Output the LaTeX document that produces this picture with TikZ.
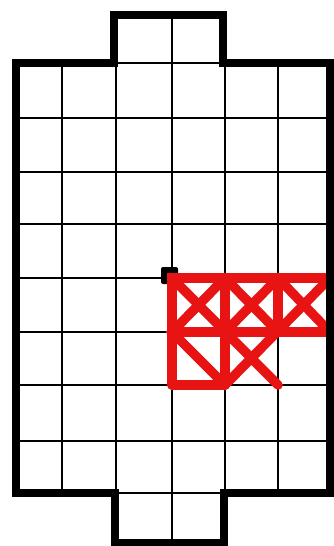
\documentclass[tikz,border=0pt]{standalone}
\usetikzlibrary{calc}
\definecolor{markred}{RGB}{232,20,20}
\tikzset{
  thin grid/.style={line width=1.8pt, black},
  outline/.style={line width=8.5pt, black, line join=miter},
  redline/.style={line width=9.5pt, markred, line cap=round},
  dotmark/.style={fill=black, rounded corners=2pt}
}
\begin{document}
\begin{tikzpicture}[x=1pt,y=-1pt]
\useasboundingbox (0,0) rectangle (334,546);
\fill[white] (0,0) rectangle (334,546);
% thin grid: vertical lines
\foreach \x in {62,116,225,278} \draw[thin grid] (\x,63) -- (\x,493);
\draw[thin grid] (172,15) -- (172,543);
% horizontal lines
\foreach \y in {118,172,224,278,332,385,441} \draw[thin grid] (16,\y) -- (330,\y);
\draw[thin grid] (114,63) -- (223,63);
\draw[thin grid] (115,493) -- (224,493);
% black dot
\fill[dotmark] (161,267) rectangle (178,284);
% red marking
\draw[redline] (172,385) -- (172,278) -- (326,278);
\draw[redline] (172,385) -- (225,385);
\draw[redline] (225,278) -- (225,385);
\draw[redline] (278,278) -- (278,332);
\draw[redline] (172,332) -- (326,332);
\draw[redline] (172,278) -- (278,385);
\draw[redline] (225,278) -- (172,332) -- (225,385);
\draw[redline] (278,278) -- (225,332);
\draw[redline] (225,278) -- (278,332);
\draw[redline] (278,278) -- (326,328);
\draw[redline] (326,282) -- (225,385);
% thick outline
\draw[outline] (16,63) -- (114,63) -- (114,15) -- (223,15) -- (223,63) -- (330,63)
  -- (330,493) -- (224,493) -- (224,543) -- (115,543) -- (115,493) -- (16,493) -- cycle;
\end{tikzpicture}
\end{document}
